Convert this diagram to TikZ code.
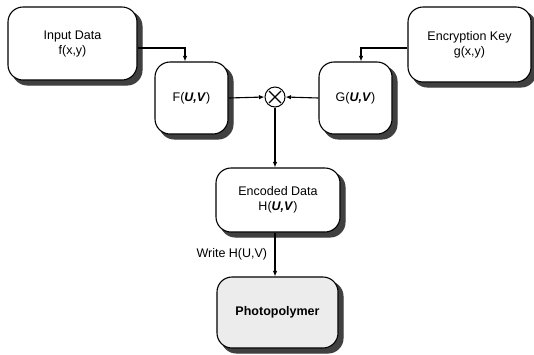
\documentclass[tikz,border=0pt]{standalone}
\usepackage{fontspec}
\setmainfont{Liberation Sans}
\usetikzlibrary{arrows.meta,calc,backgrounds}
\begin{document}
\begin{tikzpicture}[x=1pt,y=-1pt,
  lbl/.style={font=\fontsize{12.5}{15}\selectfont},
  box/.style={draw,line width=1.1pt,rounded corners=15pt,fill=white,align=center,
    lbl,inner sep=0pt},
  shade/.style={fill=black!75,draw=black!75,line width=1pt,rounded corners=15pt},
  arr/.style={line width=1.1pt,-{Latex[length=5.5pt,width=4.5pt]}}]
\useasboundingbox (0,0) rectangle (534,354);
\node[box,minimum width=129,minimum height=73] (in) at (72.5,43.5) {Input Data\\f(x,y)};
\node[box,minimum width=73,minimum height=72] (F) at (191.5,98) {F(\textbf{\textit{U,V}})};
\node[draw,circle,line width=1pt,minimum size=20,inner sep=0pt] (m) at (275,97) {};
\draw[line width=1.1pt] ($(m.center)+(-6,-6)$) -- ($(m.center)+(6,6)$)
  ($(m.center)+(-6,6)$) -- ($(m.center)+(6,-6)$);
\node[box,minimum width=73,minimum height=72] (G) at (355.5,98) {G(\textbf{\textit{U,V}})};
\node[box,minimum width=123,minimum height=75] (key) at (469.5,44.5) {Encryption Key\\g(x,y)};
\node[box,minimum width=124,minimum height=64] (enc) at (278,200) {Encoded Data\\H(\textbf{\textit{U,V}})};
\node[box,fill=gray!15,minimum width=121,minimum height=71] (ph) at (277.5,312.5) {\textbf{Photopolymer}};
% drop shadows behind the boxes
\begin{scope}[on background layer]
  \foreach \b in {in,F,G,key,enc,ph}
    \filldraw[shade] ($(\b.north west)+(5,5)$) rectangle ($(\b.south east)+(4.5,4.5)$);
\end{scope}
% connectors
\draw[arr] ($(in.east)+(0,4.5)$) -| ([xshift=-6.5]F.north);
\draw[arr] ($(key.west)+(0,3.5)$) -| ([xshift=5.5]G.north);
\draw[arr] (F.east) -- (m.west);
\draw[arr] (G.west) -- (m.east);
\draw[arr] (m.south) -- (m.south |- enc.north);
\draw[arr] (enc.south -| m.south) -- (m.south |- ph.north)
  node[midway,left=4pt,lbl] {Write H(U,V)};
\end{tikzpicture}
\end{document}
